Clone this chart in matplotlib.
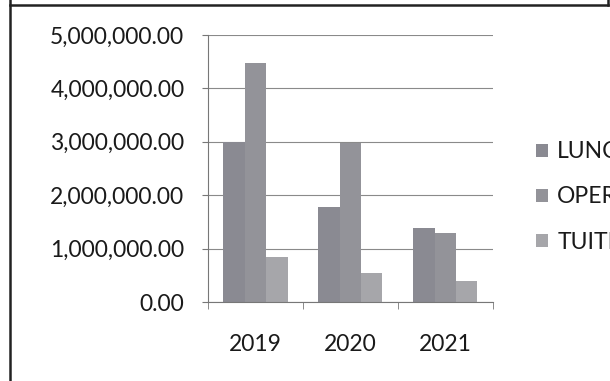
import numpy as np
import matplotlib
matplotlib.use("Agg")
from matplotlib import pyplot as plt
from matplotlib.lines import Line2D
from matplotlib.ticker import FuncFormatter

plt.rcParams['font.family'] = ['Lato', 'DejaVu Sans']

years = ["2019", "2020", "2021"]
series = ["LUNCH", "OPERATIONS", "TUITION"]
lunch = [3000000, 1770000, 1380000]
operations = [4480000, 2970000, 1290000]
tuition = [850000, 540000, 400000]
colors = ["#8a8a92", "#939399", "#a6a6aa"]

fig = plt.figure(figsize=(6.1, 3.81), dpi=100)
ax = fig.add_axes([0.341, 0.2073, 0.467, 0.7008])

x = np.arange(len(years))
w = 0.225
for i, (vals, name) in enumerate(zip([lunch, operations, tuition], series)):
    ax.bar(x + (i - 1) * w, vals, width=w, color=colors[i], label=name, zorder=2)

ax.set_xlim(-0.5, 2.5)
ax.set_ylim(0, 5000000)
ax.set_yticks(np.arange(0, 5000001, 1000000))
ax.yaxis.set_major_formatter(FuncFormatter(lambda v, p: "{:,.2f}".format(v)))
ax.set_xticks(x)
ax.set_xticklabels(years)
ax.set_xticks([-0.5, 0.5, 1.5, 2.5], minor=True)

ax.grid(axis="y", color="#8a8a8a", lw=0.8, zorder=0)
for s in ["top", "right"]:
    ax.spines[s].set_visible(False)
ax.spines["left"].set_color("#777777")
ax.spines["bottom"].set_color("#777777")
ax.tick_params(axis="y", length=4, color="#777777", pad=13, labelsize=16.5, labelcolor="#1a1a1a")
ax.tick_params(axis="x", which="major", length=0, pad=23, labelsize=16.5, labelcolor="#1a1a1a")
ax.tick_params(axis="x", which="minor", length=5, color="#777777")

# legend
handles, labels = ax.get_legend_handles_labels()
fig.legend(handles, labels, loc="center left", bbox_to_anchor=(0.878, 0.483),
           frameon=False, fontsize=16.5, borderpad=0, borderaxespad=0,
           handlelength=0.55, handleheight=0.5, handletextpad=0.4,
           labelspacing=1.05, labelcolor="#1a1a1a")

# scanned page frame
fig.add_artist(Line2D([10 / 610, 10 / 610], [0, 1], color="#222222", lw=1.8))
fig.add_artist(Line2D([10 / 610, 608 / 610], [1 - 5 / 381, 1 - 5 / 381], color="#222222", lw=1.8))
fig.add_artist(Line2D([608 / 610, 608 / 610], [1 - 5 / 381, 1], color="#222222", lw=1.8))

fig.savefig("out.png", dpi=100)
